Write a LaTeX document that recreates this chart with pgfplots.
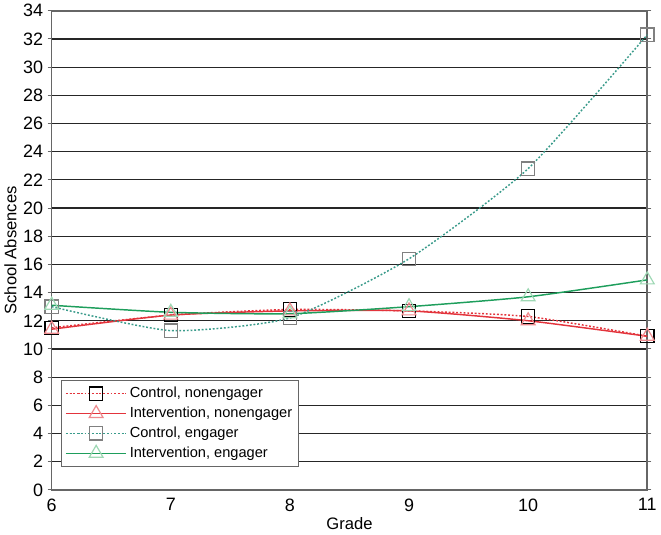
\documentclass[border=0pt]{standalone}
\usepackage{pgfplots}
\pgfplotsset{compat=1.18}
\usepackage{fontspec}
\setmainfont{Liberation Sans}
\definecolor{cred}{HTML}{E3343C}
\definecolor{cpink}{HTML}{EE8A8E}
\definecolor{cgreen}{HTML}{1E9E5C}
\definecolor{cpale}{HTML}{9ED8B4}
\definecolor{cteal}{HTML}{3A9B8B}
\definecolor{frame}{HTML}{666666}
\begin{document}
\begin{tikzpicture}
\begin{axis}[
  width=448.5pt, height=360.75pt, scale only axis,
  xmin=6, xmax=11, ymin=0, ymax=34,
  xtick={6,...,11}, ytick={0,2,...,34},
  ymajorgrids, grid style={black!85, line width=0.9pt},
  axis line style={frame, line width=1.2pt},
  xtick style={draw=none},
  ytick style={frame, line width=0.8pt},
  tick align=outside, major tick length=3pt,
  tick label style={font=\fontsize{13.5}{15}\selectfont},
  /pgf/number format/assume math mode=true,
  xlabel={Grade}, ylabel={School Absences},
  label style={font=\fontsize{12.5}{14}\selectfont},
  xlabel style={yshift=2pt},
  ylabel style={yshift=-2pt},
  clip=false,
  legend cell align=left,
  legend style={at={(0.015,0.048)}, anchor=south west, draw=frame, line width=0.9pt,
    font=\fontsize{11}{12}\selectfont, row sep=1.5pt, inner sep=3pt},
  legend image code/.code={\draw[mark repeat=2,mark phase=2] plot coordinates {(0cm,0cm) (0.8cm,0cm) (1.6cm,0cm)};},
  every axis plot/.append style={line width=1.1pt, smooth, tension=0.35},
]
\addplot[cred, dash pattern=on 1.4pt off 1.4pt, mark=square, mark size=5pt,
  mark options={solid, draw=black, fill=white, line width=0.9pt}]
  coordinates {(6,11.5) (7,12.4) (8,12.8) (9,12.7) (10,12.3) (11,10.9)};
\addplot[cred, mark=triangle, mark size=6pt,
  mark options={solid, draw=cpink, fill=none, line width=0.9pt}]
  coordinates {(6,11.4) (7,12.4) (8,12.7) (9,12.7) (10,12.0) (11,10.9)};
\addplot[cteal, dash pattern=on 1.4pt off 1.4pt, mark=square, mark size=5pt,
  mark options={solid, draw=gray, fill=white, line width=0.9pt}]
  coordinates {(6,13.0) (7,11.3) (8,12.2) (9,16.4) (10,22.8) (11,32.3)};
\addplot[cgreen, mark=triangle, mark size=6pt,
  mark options={solid, draw=cpale, fill=none, line width=0.9pt}]
  coordinates {(6,13.1) (7,12.6) (8,12.5) (9,13.0) (10,13.7) (11,14.9)};
\legend{{Control, nonengager}, {Intervention, nonengager}, {Control, engager}, {Intervention, engager}}
\end{axis}
\end{tikzpicture}
\end{document}
